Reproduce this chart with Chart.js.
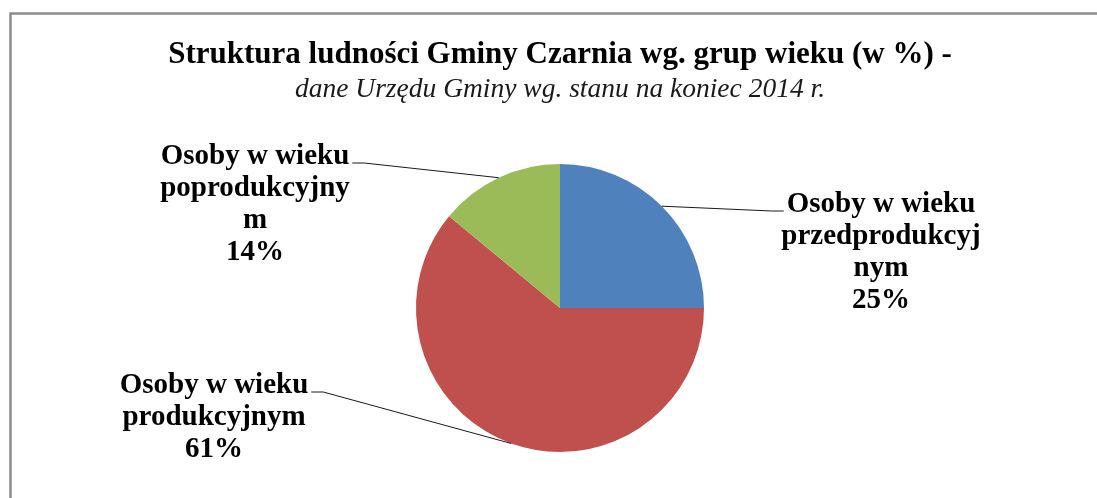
<!DOCTYPE html>
<html>
<head>
<meta charset="utf-8">
<script src="https://cdn.jsdelivr.net/npm/chart.js@4"></script>
<style>
  body { margin: 0; background: #fff; }
  canvas { display: block; }
</style>
</head>
<body>
<canvas id="pieChart" width="1097" height="498"></canvas>
<script>
// data
const categories = ['Osoby w wieku przedprodukcyjnym', 'Osoby w wieku produkcyjnym', 'Osoby w wieku poprodukcyjnym'];
const shares = [25, 61, 14];
const sliceColors = ['#4F81BD', '#C0504D', '#9BBB59'];
// label text as Excel wrapped it
const labelLines = [
    ['Osoby w wieku', 'przedprodukcyj', 'nym'],
    ['Osoby w wieku', 'produkcyjnym'],
    ['Osoby w wieku', 'poprodukcyjny', 'm']
];
const titleText = 'Struktura ludności Gminy Czarnia wg. grup wieku (w %) -';
const subtitleText = 'dane Urzędu Gminy wg. stanu na koniec 2014 r.';

// gray frame round the chart (only top and left show)
const framePlugin = {
    id: 'frame',
    beforeDraw(chart) {
        const ctx = chart.ctx;
        ctx.save();
        ctx.strokeStyle = '#8c8c8c';
        ctx.lineWidth = 2.5;
        ctx.beginPath();
        ctx.moveTo(10.5, 498);
        ctx.lineTo(10.5, 13.5);
        ctx.lineTo(1097, 13.5);
        ctx.stroke();
        ctx.restore();
    }
};

// outside labels with leader lines
const labelPlugin = {
    id: 'outLabels',
    afterDatasetsDraw(chart) {
        const ctx = chart.ctx;
        const meta = chart.getDatasetMeta(0);
        const spots = [[321, -96], [-346, 85], [-305, -144]];
        ctx.save();
        ctx.font = 'bold 29px "Liberation Serif"';
        ctx.textAlign = 'center';
        ctx.textBaseline = 'alphabetic';
        meta.data.forEach(function(arc, i) {
            const p = arc.getProps(['x', 'y', 'startAngle', 'endAngle', 'outerRadius'], true);
            const mid = (p.startAngle + p.endAngle) / 2;
            const ax = p.x + Math.cos(mid) * p.outerRadius;
            const ay = p.y + Math.sin(mid) * p.outerRadius;
            const lines = labelLines[i].concat([shares[i] + '%']);
            const lx = p.x + spots[i][0];
            const ly = p.y + spots[i][1];
            const w0 = ctx.measureText(lines[0]).width;
            const onRight = lx > p.x;
            const ex = onRight ? lx - w0 / 2 - 3 : lx + w0 / 2 + 3;
            const ey = ly - 1;
            const dir = onRight ? -1 : 1;

            ctx.strokeStyle = '#1a1a1a';
            ctx.lineWidth = 1;
            ctx.beginPath();
            ctx.moveTo(ax, ay);
            ctx.lineTo(ex + dir * 12, ey);
            ctx.lineTo(ex, ey);
            ctx.stroke();

            ctx.fillStyle = '#000';
            for (var k = 0; k < lines.length; k++) {
                ctx.fillText(lines[k], lx, ly + k * 32);
            }
        });
        ctx.restore();
    }
};

const ctx = document.getElementById('pieChart').getContext('2d');
const myChart = new Chart(ctx, {
    type: 'pie',
    data: {
        labels: categories,
        datasets: [{
            data: shares,
            backgroundColor: sliceColors,
            borderWidth: 0
        }]
    },
    options: {
        responsive: false,
        animation: false,
        layout: {
            padding: { top: 0, bottom: 46, left: 23, right: 0 }
        },
        plugins: {
            legend: { display: false },
            tooltip: { enabled: false },
            title: {
                display: true,
                text: titleText,
                color: '#000',
                font: { family: '"Liberation Serif"', size: 31, weight: 'bold' },
                padding: { top: 36.5, bottom: 0 }
            },
            subtitle: {
                display: true,
                text: subtitleText,
                color: '#1a1a1a',
                font: { family: '"Liberation Serif"', size: 27.5, style: 'italic', weight: 'normal' },
                padding: { top: 0, bottom: 57.3 }
            }
        }
    },
    plugins: [framePlugin, labelPlugin]
});
</script>
</body>
</html>
